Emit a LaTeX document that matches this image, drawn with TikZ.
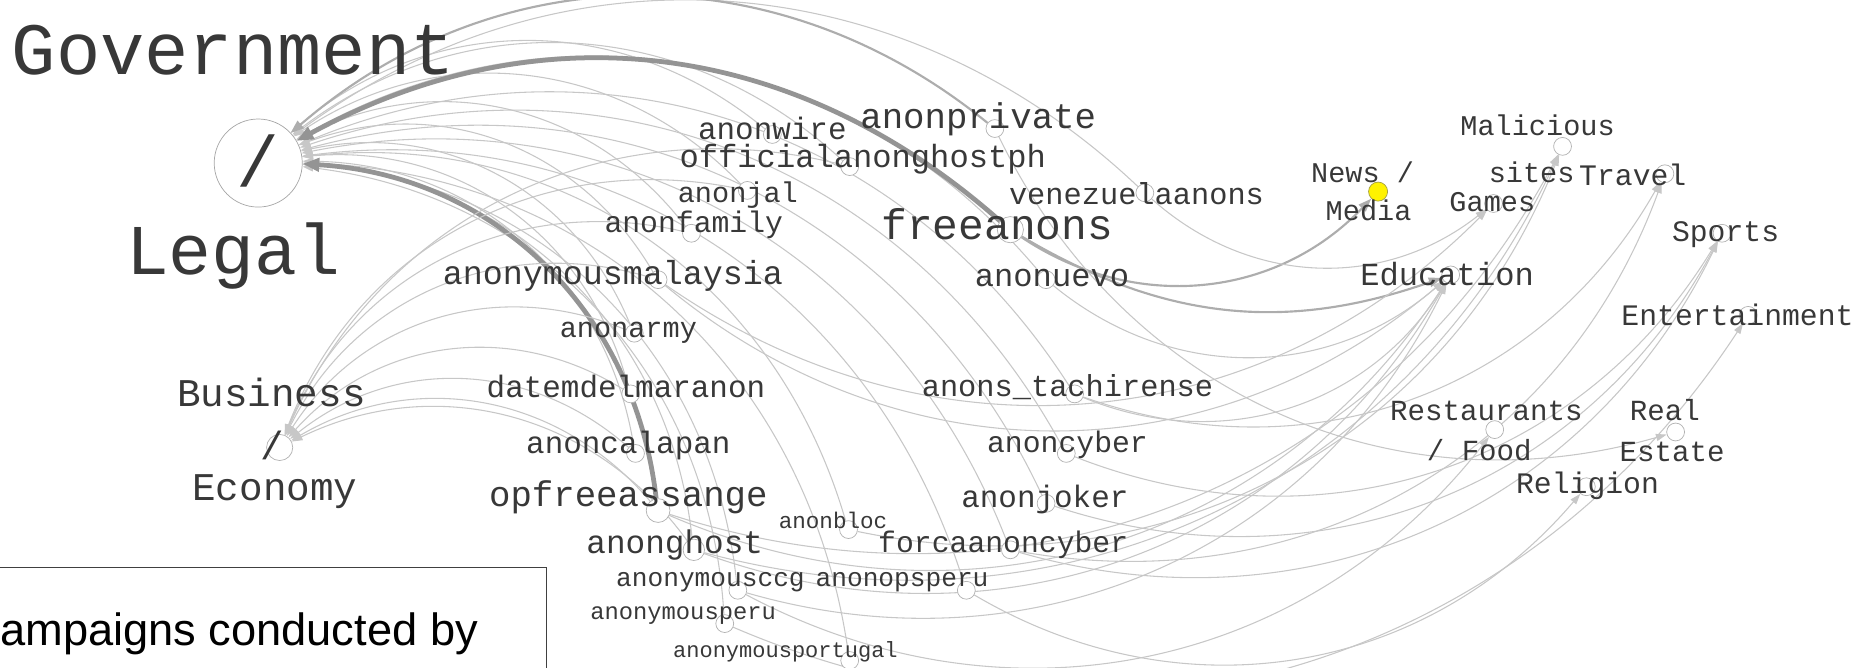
\documentclass[tikz,border=0pt]{standalone}
\usepackage{fontspec}
\setmainfont{Liberation Sans}
\newfontfamily\netfont{Liberation Mono}
\usetikzlibrary{arrows.meta,positioning}

\pgfdeclarelayer{edges}
\pgfsetlayers{edges,main}

\tikzset{
    campdot/.style={circle, draw=black!30, fill=white, inner sep=0pt, minimum size=15pt, line width=0.6pt},
    netlabel/.style={text=black!78, inner sep=0pt, font=\netfont\fontsize{#1}{#1}\selectfont},
    link/.style={draw=black!22, line width=0.9pt, -{Triangle[length=9pt,width=6pt]}},
    medlink/.style={draw=black!32, line width=1.8pt, -{Triangle[length=11pt,width=8pt]}},
    heavylink/.style={draw=black!42, line width=4pt, -{Triangle[length=14pt,width=11pt]}}
}

\begin{document}
\begin{tikzpicture}[x=1pt, y=-1pt]
    \useasboundingbox (0,0) rectangle (1568,561);

    % categories
    \node[campdot, minimum size=74pt, draw=black!35] (gov) at (217,137) {};
    \node[campdot, minimum size=22pt] (biz) at (235,376) {};
    \node[campdot, fill=yellow, draw=yellow!60!black, minimum size=16pt] (news) at (1158,161) {};
    \node[campdot] (malic) at (1313,123) {};
    \node[campdot] (games) at (1255,171) {};
    \node[campdot] (travel) at (1399,146) {};
    \node[campdot] (sports) at (1447,196) {};
    \node[campdot] (edu) at (1219,231) {};
    \node[campdot] (ent) at (1469,265) {};
    \node[campdot] (rest) at (1256,361) {};
    \node[campdot] (realest) at (1408,363) {};
    \node[campdot] (relig) at (1333,409) {};

    % campaigns
    \node[campdot] (wire) at (649,113) {};
    \node[campdot] (priv) at (836,108) {};
    \node[campdot] (offph) at (714,140) {};
    \node[campdot] (jal) at (628,160) {};
    \node[campdot] (venez) at (962,162) {};
    \node[campdot] (family) at (581,196) {};
    \node[campdot, minimum size=22pt] (free) at (849,193) {};
    \node[campdot] (malay) at (553,235) {};
    \node[campdot] (nuevo) at (879,235) {};
    \node[campdot] (army) at (533,280) {};
    \node[campdot] (datem) at (530,331) {};
    \node[campdot] (tachi) at (903,331) {};
    \node[campdot] (calapan) at (534,381) {};
    \node[campdot] (cyber) at (896,381) {};
    \node[campdot, minimum size=20pt] (assange) at (553,429) {};
    \node[campdot] (joker) at (879,423) {};
    \node[campdot] (bloc) at (713,445) {};
    \node[campdot, minimum size=18pt] (ghost) at (583,462) {};
    \node[campdot] (forca) at (849,462) {};
    \node[campdot] (ccg) at (620,496) {};
    \node[campdot] (opsperu) at (812,496) {};
    \node[campdot] (aperu) at (609,524) {};
    \node[campdot] (portugal) at (714,555) {};

    \begin{pgfonlayer}{edges}
        \foreach \src in {wire,offph,jal,venez,family,malay,nuevo,army,datem,tachi,calapan,cyber,joker,bloc,ghost,forca,ccg,opsperu,aperu,portugal}
            \draw[link] (\src) to[bend right=40] (gov);
        \draw[medlink] (priv) to[bend right=40] (gov);
        \draw[heavylink] (free) to[bend right=35] (gov);
        \draw[heavylink] (assange) to[bend right=40] (gov);
        \foreach \src in {offph,jal,family,malay,army,datem,calapan,assange,ghost}
            \draw[link] (\src) to[bend right=40] (biz);
        \draw[medlink] (free) to[bend right=40] (news);
        \draw[medlink] (free) to[bend right=25] (edu);
        \foreach \src/\dst in {venez/games,malay/games,malay/edu,tachi/edu,ghost/edu,assange/edu,ccg/edu,nuevo/edu,
                ghost/malic,assange/malic,bloc/malic,tachi/travel,forca/travel,joker/sports,cyber/sports,
                forca/sports,aperu/ent,ccg/rest,opsperu/relig,priv/realest}
            \draw[link] (\src) to[bend right=40] (\dst);
    \end{pgfonlayer}

    % labels
    \node[netlabel=62] (gov-a) at (196,42) {Government};
    \node[netlabel=60] (gov-b) at (217,135) {/};
    \node[netlabel=60] (gov-c) at (196,215) {Legal};
    \node[netlabel=33] (biz-a) at (228,330) {Business};
    \node[netlabel=33] (biz-b) at (229,374) {/};
    \node[netlabel=33] (biz-c) at (231,413) {Economy};
    \node[netlabel=24] (news-a) at (1145,145) {News /};
    \node[netlabel=24] (news-b) at (1150,177) {Media};
    \node[netlabel=24] (malic-a) at (1292,105) {Malicious};
    \node[netlabel=24] (malic-b) at (1287,145) {sites};
    \node[netlabel=25] (travel-t) at (1372,147) {Travel};
    \node[netlabel=24] (games-t) at (1254,170) {Games};
    \node[netlabel=25] (sports-t) at (1450,197) {Sports};
    \node[netlabel=27] (edu-t) at (1216,230) {Education};
    \node[netlabel=25] (ent-t) at (1460,265) {Entertainment};
    \node[netlabel=24.5] (rest-a) at (1249,345) {Restaurants};
    \node[netlabel=24.5] (rest-b) at (1243,378) {/ Food};
    \node[netlabel=24.5] (realest-a) at (1399,345) {Real};
    \node[netlabel=24.5] (realest-b) at (1405,380) {Estate};
    \node[netlabel=25] (relig-t) at (1334,408) {Religion};

    \node[netlabel=26] (wire-t) at (649,108) {anonwire};
    \node[netlabel=30] (priv-t) at (822,100) {anonprivate};
    \node[netlabel=27] (offph-t) at (725,134) {officialanonghostph};
    \node[netlabel=24] (jal-t) at (620,164) {anonjal};
    \node[netlabel=25.5] (venez-t) at (955,163) {venezuelaanons};
    \node[netlabel=25] (family-t) at (583,189) {anonfamily};
    \node[netlabel=36] (free-t) at (838,188) {freeanons};
    \node[netlabel=28] (malay-t) at (515,232) {anonymousmalaysia};
    \node[netlabel=27] (nuevo-t) at (884,234) {anonuevo};
    \node[netlabel=24] (army-t) at (528,280) {anonarmy};
    \node[netlabel=26] (datem-t) at (526,325) {datemdelmaranon};
    \node[netlabel=25.5] (tachi-t) at (897,325) {anons\_tachirense};
    \node[netlabel=26] (calapan-t) at (528,374) {anoncalapan};
    \node[netlabel=25] (cyber-t) at (897,374) {anoncyber};
    \node[netlabel=30] (assange-t) at (528,418) {opfreeassange};
    \node[netlabel=26] (joker-t) at (878,420) {anonjoker};
    \node[netlabel=19] (bloc-t) at (700,437) {anonbloc};
    \node[netlabel=27.5] (ghost-t) at (567,458) {anonghost};
    \node[netlabel=25] (forca-t) at (843,458) {forcaanoncyber};
    \node[netlabel=22] (ccg-t) at (597,489) {anonymousccg};
    \node[netlabel=22] (opsperu-t) at (758,489) {anonopsperu};
    \node[netlabel=20] (aperu-t) at (574,517) {anonymousperu};
    \node[netlabel=18.5] (portugal-t) at (660,548) {anonymousportugal};

    % caption box, cut by the frame
    \draw[black!75, line width=0.8pt, fill=white] (-5,477) rectangle (459,600);
    \node[anchor=base west, inner sep=0pt, font=\fontsize{38}{42}\selectfont] (caption) at (0,542) {ampaigns conducted by};
\end{tikzpicture}
\end{document}
